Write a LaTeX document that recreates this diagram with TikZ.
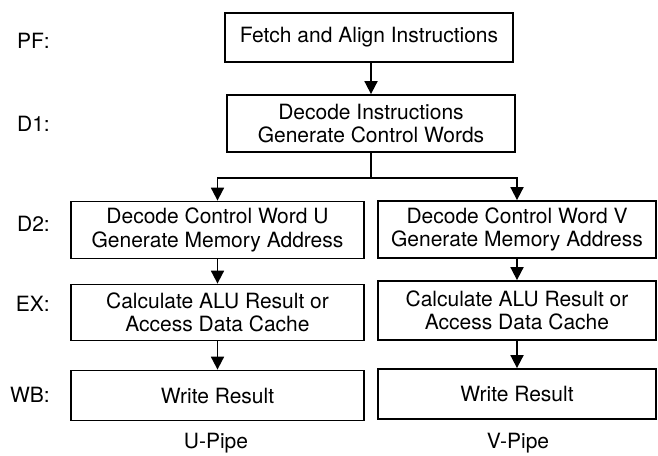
\documentclass[tikz,border=0pt]{standalone}
\usepackage{fontspec}
\setmainfont{TeX Gyre Heros}
\usetikzlibrary{arrows.meta}

\tikzset{
  stagebox/.style={draw=black, line width=1.8pt, fill=white, align=center,
    inner sep=0pt, font=\fontsize{21}{23.5}\selectfont},
  stagelabel/.style={font=\fontsize{21}{23.5}\selectfont, inner sep=0pt},
  flow/.style={line width=1.8pt, -{Triangle[width=13pt,length=13pt]}},
}

\begin{document}
\begin{tikzpicture}[x=1pt,y=-1pt]
\useasboundingbox (0,0) rectangle (658,455);
% common front end
\node[stagebox, minimum width=288pt, minimum height=49pt] (fetch) at (369,37.5)
  {Fetch and Align Instructions};
\node[stagebox, minimum width=288pt, minimum height=57pt] (dec1) at (371,123.5)
  {Decode Instructions\\Generate Control Words};
% u-pipe
\node[stagebox, minimum width=293pt, minimum height=57pt] (decu) at (217.5,230)
  {Decode Control Word U\\Generate Memory Address};
\node[stagebox, minimum width=293pt, minimum height=56pt] (exu) at (217.5,312.5)
  {Calculate ALU Result or\\Access Data Cache};
\node[stagebox, minimum width=293pt, minimum height=50pt] (wbu) at (217.5,395.5)
  {Write Result};
% v-pipe
\node[stagebox, minimum width=278pt, minimum height=57pt] (decv) at (517,229.5)
  {Decode Control Word V\\Generate Memory Address};
\node[stagebox, minimum width=278pt, minimum height=59pt] (exv) at (517,310.5)
  {Calculate ALU Result or\\Access Data Cache};
\node[stagebox, minimum width=278pt, minimum height=50pt] (wbv) at (517,394)
  {Write Result};
% stage names
\node[stagelabel, anchor=east] (lpf) at (50,41) {PF:};
\node[stagelabel, anchor=east] (ld1) at (50,124) {D1:};
\node[stagelabel, anchor=east] (ld2) at (50,224) {D2:};
\node[stagelabel, anchor=east] (lex) at (50,304) {EX:};
\node[stagelabel, anchor=east] (lwb) at (50,395) {WB:};
% pipe names
\node[stagelabel] (upipe) at (216,443) {U-Pipe};
\node[stagelabel] (vpipe) at (518,443) {V-Pipe};
% arrows
\draw[flow] (dec1.north |- fetch.south) -- (dec1.north);
\draw[line width=1.8pt] (dec1.south) -- ++(0,25) coordinate (fork);
\draw[flow] (fork) -| (decu.north);
\draw[flow] (fork) -| (decv.north);
\draw[flow] (decu.south) -- (exu.north);
\draw[flow] (exu.south) -- (wbu.north);
\draw[flow] (decv.south) -- (exv.north);
\draw[flow] (exv.south) -- (wbv.north);
\end{tikzpicture}
\end{document}
